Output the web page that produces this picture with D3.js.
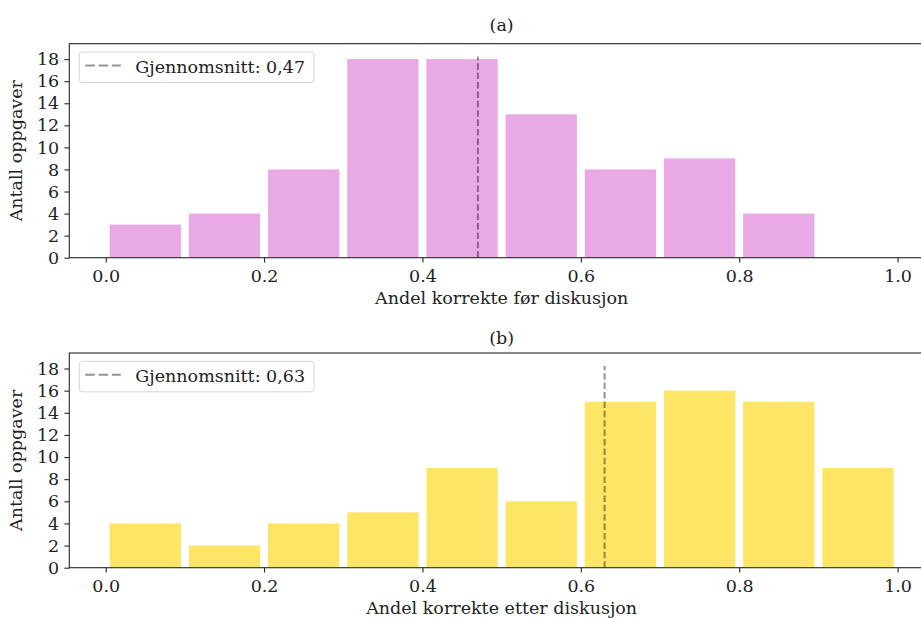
<!DOCTYPE html>
<html>
<head>
<meta charset="utf-8">
<script src="https://cdn.jsdelivr.net/npm/d3@7"></script>
<style>
  html, body { margin: 0; padding: 0; background: #fff; }
  svg { display: block; }
  text { font-family: "DejaVu Serif", serif; fill: #222; }
</style>
</head>
<body>
<svg id="chart" width="921" height="618"></svg>
<script>
// Histogram bins: left edge of each 0.1-wide bin
const binStarts = [0.0, 0.1, 0.2, 0.3, 0.4, 0.5, 0.6, 0.7, 0.8, 0.9];
const binWidth = 0.1;

// Number of tasks per bin, before and after discussion
const countsBefore = [3, 4, 8, 18, 18, 13, 8, 9, 4, 0];
const countsAfter  = [4, 2, 4, 5, 9, 6, 15, 16, 15, 9];

// Mean share of correct answers
const meanBefore = 0.47;
const meanAfter = 0.63;

// Axis ticks
const xTicks = [0.0, 0.2, 0.4, 0.6, 0.8, 1.0];
const xTickLabels = ["0.0", "0.2", "0.4", "0.6", "0.8", "1.0"];
const yTicks = [0, 2, 4, 6, 8, 10, 12, 14, 16, 18];

const panelTitles = ["(a)", "(b)"];
const xTitles = ["Andel korrekte før diskusjon", "Andel korrekte etter diskusjon"];
const yTitle = "Antall oppgaver";
const legendLabel = m => "Gjennomsnitt: " + m.toFixed(2).replace(".", ",");

const svg = d3.select("#chart");
const fontSize = 17.5;
const axisColor = "#262626";

const x = d3.scaleLinear().domain([-0.046, 1.046]).range([69.3, 934]);

const panels = [
  { top: 43.7, bottom: 257.7, counts: countsBefore, mean: meanBefore, color: "#e9a9e5",
    titleFont: "DejaVu Sans", titleY: 31 },
  { top: 353,  bottom: 567.7, counts: countsAfter,  mean: meanAfter,  color: "#fee566",
    titleFont: "DejaVu Serif", titleY: 344.2 }
];

panels.forEach((p, i) => {
  const y = d3.scaleLinear().domain([0, 19.4]).range([p.bottom, p.top]);
  const g = svg.append("g");

  // bars (rwidth 0.9)
  const barW = binWidth * 0.9;
  g.selectAll("rect.bar")
    .data(binStarts.map((s, k) => ({ s, c: p.counts[k] })).filter(d => d.c > 0))
    .join("rect")
    .attr("class", "bar")
    .attr("x", d => x(d.s + binWidth * 0.05))
    .attr("width", d => x(d.s + binWidth * 0.05 + barW) - x(d.s + binWidth * 0.05))
    .attr("y", d => y(d.c))
    .attr("height", d => y(0) - y(d.c))
    .attr("fill", p.color);

  // mean line
  const lineTop = p.bottom - (p.bottom - p.top) * 0.94;
  g.append("line")
    .attr("x1", x(p.mean)).attr("x2", x(p.mean))
    .attr("y1", p.bottom).attr("y2", lineTop)
    .attr("stroke", "#000").attr("stroke-opacity", 0.42)
    .attr("stroke-width", 2)
    .attr("stroke-dasharray", "6.5,2.9");

  // x axis
  const xAxis = d3.axisBottom(x).tickValues(xTicks)
    .tickFormat((d, k) => xTickLabels[k]).tickSize(4.9).tickPadding(0).tickSizeOuter(0);
  const gx = g.append("g").attr("transform", `translate(0,${p.bottom})`).call(xAxis);
  gx.select(".domain").remove();
  gx.selectAll("line").attr("stroke", axisColor).attr("stroke-width", 1.1);
  gx.selectAll("text").attr("font-size", fontSize).attr("fill", "#222")
    .attr("font-family", "DejaVu Serif").attr("y", 24).attr("dy", null);

  // y axis
  const yAxis = d3.axisLeft(y).tickValues(yTicks).tickSize(4.9).tickPadding(5.2).tickSizeOuter(0);
  const gy = g.append("g").attr("transform", `translate(${x.range()[0]},0)`).call(yAxis);
  gy.select(".domain").remove();
  gy.selectAll("line").attr("stroke", axisColor).attr("stroke-width", 1.1);
  gy.selectAll("text").attr("font-size", fontSize).attr("fill", "#222")
    .attr("font-family", "DejaVu Serif");

  // frame
  g.append("rect")
    .attr("x", x.range()[0]).attr("y", p.top)
    .attr("width", x.range()[1] - x.range()[0]).attr("height", p.bottom - p.top)
    .attr("fill", "none").attr("stroke", axisColor).attr("stroke-width", 1.1);

  // titles
  const cx = (x.range()[0] + x.range()[1]) / 2;
  g.append("text").attr("x", cx).attr("y", p.titleY)
    .attr("text-anchor", "middle").attr("font-size", fontSize)
    .attr("font-family", p.titleFont).text(panelTitles[i]);
  g.append("text").attr("x", cx).attr("y", p.bottom + 46.6)
    .attr("text-anchor", "middle").attr("font-size", fontSize).text(xTitles[i]);
  g.append("text")
    .attr("transform", `translate(21.5,${(p.top + p.bottom) / 2}) rotate(-90)`)
    .attr("text-anchor", "middle").attr("font-size", fontSize).text(yTitle);

  // legend
  const lx = 79.3, ly = p.top + 8.3;
  const lg = g.append("g");
  lg.append("rect").attr("x", lx).attr("y", ly).attr("width", 234.7).attr("height", 30.5)
    .attr("rx", 3).attr("fill", "#fff").attr("fill-opacity", 0.8)
    .attr("stroke", "#d6d6d6").attr("stroke-width", 1);
  lg.append("line").attr("x1", lx + 6).attr("x2", lx + 41.5)
    .attr("y1", ly + 13.5).attr("y2", ly + 13.5)
    .attr("stroke", "#000").attr("stroke-opacity", 0.42).attr("stroke-width", 2)
    .attr("stroke-dasharray", "9.5,3.8");
  lg.append("text").attr("x", lx + 56).attr("y", ly + 20.8)
    .attr("font-size", fontSize).text(legendLabel(p.mean));
});
</script>
</body>
</html>
